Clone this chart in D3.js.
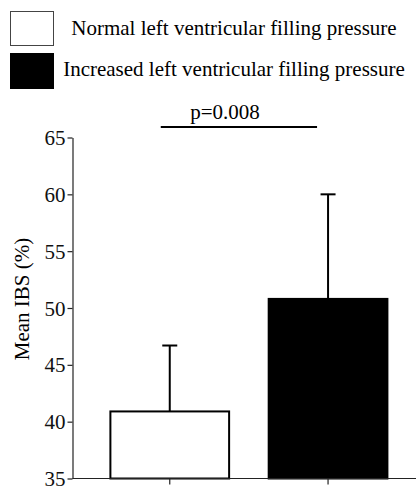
<!DOCTYPE html>
<html>
  <head>
    <style>
      body { margin: 0; background: #fff; }
    </style>
  </head>
  <body>
    <svg id="container" height="486" width="418"></svg>
  </body>
  <script src="https://cdn.jsdelivr.net/npm/d3@7"></script>
  <script>
    // data
    let groups = ["Normal left ventricular filling pressure", "Increased left ventricular filling pressure"];
    let means = [40.9, 50.8];
    let sds = [5.8, 9.2];
    let fills = ["#fff", "#000"];
    let yTicks = [35, 40, 45, 50, 55, 60, 65];
    let pLabel = "p=0.008";

    let svg = d3.select("#container");
    let fontSize = 21;
    let serif = "'Liberation Serif'";

    let yScale = d3.scaleLinear()
        .domain([35, 65])
        .range([478.5, 137.5]);

    let xScale = d3.scaleBand()
        .domain(groups)
        .range([72.5, 416])
        .paddingInner(0.25)
        .paddingOuter(0.21)
        .align(0.57);

    // legend
    let legend = svg.append("g");
    groups.forEach((g, i) => {
        legend.append("rect")
            .attr("x", 10.5)
            .attr("y", 11.5 + i * 42)
            .attr("width", 43)
            .attr("height", i == 0 ? 34 : 35)
            .attr("fill", fills[i])
            .attr("stroke", i == 0 ? "#444" : "#000")
            .attr("stroke-width", 1);
        legend.append("text")
            .attr("x", 234)
            .attr("y", 35 + i * 41)
            .attr("text-anchor", "middle")
            .style("font-family", serif)
            .style("font-size", fontSize + "px")
            .text(g);
    });

    // y axis
    let yAxis = svg.append("g")
        .attr("transform", "translate(72.5,0)")
        .call(d3.axisLeft(yScale).tickValues(yTicks).tickSize(5).tickPadding(2).tickSizeOuter(0));
    yAxis.select(".domain").attr("stroke", "#222").attr("stroke-width", 1.2);
    yAxis.selectAll(".tick line").attr("stroke", "#222").attr("stroke-width", 1.2);
    yAxis.selectAll(".tick text")
        .style("font-family", serif)
        .style("font-size", fontSize + "px")
        .attr("fill", "#111")
        .attr("dy", "0.34em");

    svg.append("text")
        .attr("transform", "translate(29,299) rotate(-90)")
        .attr("text-anchor", "middle")
        .style("font-family", serif)
        .style("font-size", fontSize + "px")
        .text("Mean IBS (%)");

    // bars
    let bars = svg.append("g");
    groups.forEach((g, i) => {
        let cx = xScale(g) + xScale.bandwidth() / 2;
        bars.append("line")
            .attr("x1", cx).attr("x2", cx)
            .attr("y1", yScale(means[i]))
            .attr("y2", yScale(means[i] + sds[i]))
            .attr("stroke", "#000")
            .attr("stroke-width", 2);
        bars.append("line")
            .attr("x1", cx - 7.5).attr("x2", cx + 7.5)
            .attr("y1", yScale(means[i] + sds[i]))
            .attr("y2", yScale(means[i] + sds[i]))
            .attr("stroke", "#000")
            .attr("stroke-width", 2);
        bars.append("rect")
            .attr("x", xScale(g))
            .attr("y", yScale(means[i]))
            .attr("width", xScale.bandwidth())
            .attr("height", yScale(35) - yScale(means[i]))
            .attr("fill", fills[i])
            .attr("stroke", "#000")
            .attr("stroke-width", 2);
    });

    // x axis
    let xAxis = svg.append("g")
        .attr("transform", "translate(0,478.5)")
        .call(d3.axisBottom(xScale).tickSize(6).tickSizeOuter(0).tickFormat(""));
    xAxis.select(".domain").attr("d", "M72.5,0H416").attr("stroke", "#222").attr("stroke-width", 1.2);
    xAxis.selectAll(".tick line").attr("stroke", "#222").attr("stroke-width", 1.2);

    // significance line
    let c1 = xScale(groups[0]) + xScale.bandwidth() / 2;
    let c2 = xScale(groups[1]) + xScale.bandwidth() / 2;
    svg.append("line")
        .attr("x1", c1 - 9).attr("x2", c2 - 11)
        .attr("y1", 127).attr("y2", 127)
        .attr("stroke", "#000")
        .attr("stroke-width", 2);
    svg.append("text")
        .attr("x", 225)
        .attr("y", 119)
        .attr("text-anchor", "middle")
        .style("font-family", serif)
        .style("font-size", fontSize + "px")
        .text(pLabel);
  </script>
</html>
